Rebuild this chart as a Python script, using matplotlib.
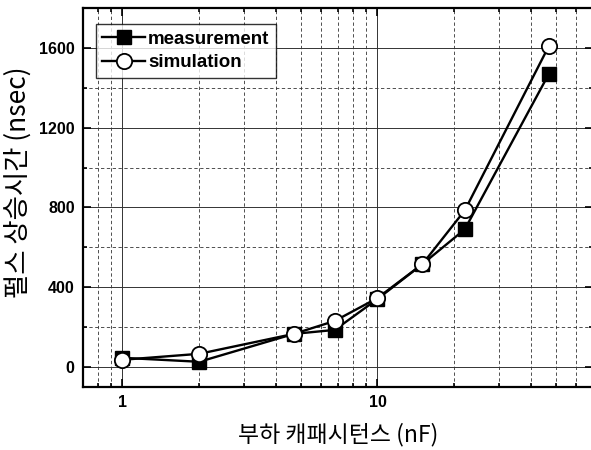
import matplotlib
matplotlib.use("Agg")
import matplotlib.pyplot as plt
import matplotlib.ticker as mticker

# load capacitance (nF) and pulse rise time (nsec)
cap_nf = [1, 2, 4.7, 6.8, 10, 15, 22, 47]
measurement = [45, 25, 165, 185, 340, 515, 690, 1470]
simulation = [35, 65, 165, 230, 345, 515, 785, 1610]

y_major = [0, 400, 800, 1200, 1600]
x_major = [1, 10]
x_major_labels = ["1", "10"]

plt.rcParams["font.family"] = ["Liberation Sans", "DejaVu Sans"]
kr_font = ["Noto Sans CJK KR", "DejaVu Sans"]

fig = plt.figure(figsize=(5.91, 4.5), dpi=100, facecolor="white")
ax = fig.add_axes([0.1404, 0.1407, 0.863, 0.8413])

ax.plot(cap_nf, measurement, color="black", linewidth=1.7, marker="s",
        markersize=10, markerfacecolor="black", markeredgecolor="black",
        label="measurement", zorder=3)
ax.plot(cap_nf, simulation, color="black", linewidth=1.7, marker="o",
        markersize=11, markerfacecolor="white", markeredgecolor="black",
        markeredgewidth=1.3, label="simulation", zorder=4)

ax.set_xscale("log")
ax.set_xlim(0.7, 70)
ax.set_ylim(-100, 1800)

ax.xaxis.set_major_locator(mticker.FixedLocator(x_major))
ax.xaxis.set_major_formatter(mticker.FixedFormatter(x_major_labels))
ax.xaxis.set_minor_locator(mticker.LogLocator(base=10, subs=range(2, 10)))
ax.xaxis.set_minor_formatter(mticker.NullFormatter())
ax.yaxis.set_major_locator(mticker.FixedLocator(y_major))
ax.yaxis.set_minor_locator(mticker.MultipleLocator(200))

ax.grid(True, which="major", color="#333333", linestyle="-", linewidth=0.7)
ax.grid(True, which="minor", color="#333333", linestyle=(0, (4, 3)), linewidth=0.6)
ax.set_axisbelow(True)

ax.tick_params(which="both", direction="in", top=True, right=True,
               labelsize=11.5, width=1.2, colors="black", pad=6)
ax.tick_params(which="major", length=6)
ax.tick_params(which="minor", length=3)
for lab in ax.get_xticklabels() + ax.get_yticklabels():
    lab.set_fontweight("bold")
for spine in ax.spines.values():
    spine.set_linewidth(1.6)
    spine.set_color("black")

ax.set_xlabel("부하 캐패시턴스 (nF)", family=kr_font, fontsize=16.5, labelpad=9)
ax.set_ylabel("펄스 상승시간 (nsec)", family=kr_font, fontsize=19, labelpad=4)
ax.yaxis.set_label_coords(-0.1, 0.54)

leg = ax.legend(loc="upper left", bbox_to_anchor=(0.025, 0.958),
                prop={"weight": "bold", "size": 13.5}, frameon=True, fancybox=False,
                edgecolor="black", handlelength=2.3, handletextpad=0.15,
                borderpad=0.35, labelspacing=0.35, borderaxespad=0.0)
leg.get_frame().set_linewidth(1.0)

fig.savefig("out.png", dpi=100, facecolor="white")
